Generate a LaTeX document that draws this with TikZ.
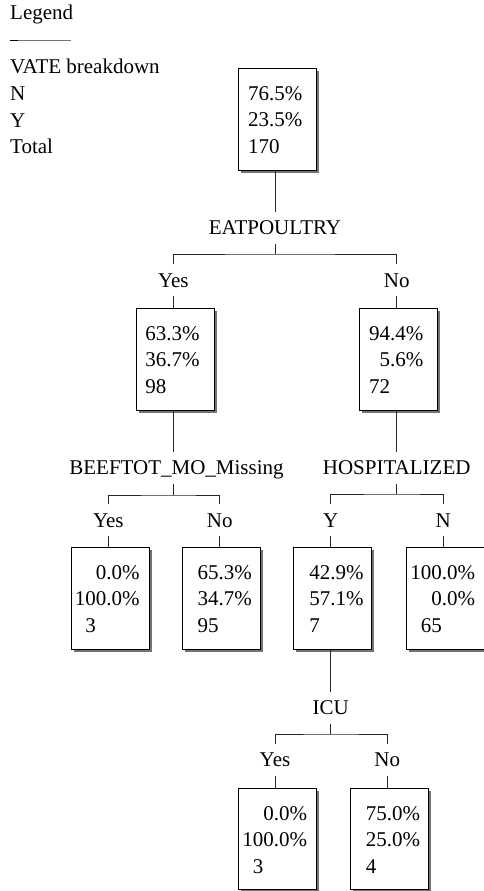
\documentclass[tikz,border=0pt]{standalone}
\usepackage{fontspec}
\setmainfont{Liberation Serif}
\usetikzlibrary{shadows,calc}
\newcommand\tbk[3]{\vtop{\baselineskip=26.6pt \hbox{#1}\hbox{#2}\hbox{#3}}}
\tikzset{
  lbl/.style={inner xsep=2pt, inner ysep=9pt, text height=13.5pt, text depth=0pt, anchor=base, font=\fontsize{21}{26.6}\selectfont},
  nbox/.style={draw=black, line width=0.9pt, fill=white, minimum width=78pt, minimum height=101.5pt, inner sep=0pt, anchor=north west,
    drop shadow={shadow xshift=2.6pt, shadow yshift=-2.6pt, fill=black!55, opacity=1}},
  btxt/.style={inner sep=0pt, anchor=base west, font=\fontsize{21}{26.6}\selectfont},
  conn/.style={draw=black!85, line width=0.9pt},
}
\begin{document}
\begin{tikzpicture}[x=1pt,y=-1pt]
\useasboundingbox (0,0) rectangle (484,891);
% legend
\node[btxt] (legend) at (10,20) {Legend};
\coordinate (lgA) at (10,41);
\coordinate (lgB) at (71,41);
\draw[line width=1pt, black!55] (lgA) -- (lgB);
\draw[line width=1pt, black] (lgA) -- ($(lgA)+(8,0)$);
\node[btxt] (legtxt) at (10,74) {\vtop{\baselineskip=26.6pt \hbox{VATE breakdown}\hbox{N}\hbox{Y}\hbox{Total}}};

% root
\node[nbox] (r) at (237.5,68) {};
\node[btxt] (rt) at (248,100) {\tbk{76.5\%}{23.5\%}{170}};
\node[lbl] (eat) at (275,234.3) {EATPOULTRY};
\coordinate (j0) at ($(eat.south)+(0,10.5)$);
\node[lbl] (y1) at (173.3,287) {Yes};
\node[lbl] (n1) at (396.7,287) {No};
\draw[conn] (r.south -| eat) -- (eat.north);
\draw[conn] (eat.south) -- (j0);
\draw[conn] (y1.north) |- (j0) -| (n1.north);

% level 1
\node[nbox] (b1y) at (135.8,308.3) {};
\node[btxt] (b1yt) at (145.2,340) {\tbk{63.3\%}{36.7\%}{98}};
\node[nbox] (b1n) at (359.2,308.3) {};
\node[btxt] (b1nt) at (368.8,340) {\tbk{94.4\%}{\hphantom{0}5.6\%}{72}};
\draw[conn] (y1.south) -- (b1y.north -| y1);
\draw[conn] (n1.south) -- (b1n.north -| n1);

% BEEFTOT
\node[lbl] (beef) at (176.5,474.3) {BEEFTOT\_MO\_Missing};
\coordinate (j1) at (173.3,495);
\draw[conn] (b1y.south -| y1) -- (y1 |- beef.north);
\draw[conn] (y1 |- beef.south) -- (j1);
\node[lbl] (y2a) at (108.3,527) {Yes};
\node[lbl] (n2a) at (219.8,527) {No};
\draw[conn] (y2a.north) |- (j1) -| (n2a.north);

% HOSPITALIZED
\node[lbl] (hosp) at (396.7,474.3) {HOSPITALIZED};
\coordinate (j2) at ($(hosp.south)+(0,10.5)$);
\draw[conn] (b1n.south -| hosp) -- (hosp.north);
\draw[conn] (hosp.south) -- (j2);
\node[lbl] (y2b) at (330.7,527) {Y};
\node[lbl] (n2b) at (443.3,527) {N};
\draw[conn] (y2b.north) |- (j2) -| (n2b.north);

% level 2 boxes
\node[nbox] (b2a) at (70.8,547.3) {};
\node[btxt] (b2at) at (74.6,579) {\tbk{\hphantom{10}0.0\%}{100.0\%}{\hphantom{0}3}};
\node[nbox] (b2b) at (182.3,547.3) {};
\node[btxt] (b2bt) at (186.8,579) {\tbk{\hphantom{0}65.3\%}{\hphantom{0}34.7\%}{\hphantom{0}95}};
\node[nbox] (b2c) at (293.2,547.3) {};
\node[btxt] (b2ct) at (298.6,579) {\tbk{\hphantom{0}42.9\%}{\hphantom{0}57.1\%}{\hphantom{0}7}};
\node[nbox] (b2d) at (405.8,547.3) {};
\node[btxt] (b2dt) at (410.1,579) {\tbk{100.0\%}{\hphantom{10}0.0\%}{\hphantom{0}65}};
\draw[conn] (y2a.south) -- (b2a.north -| y2a);
\draw[conn] (n2a.south) -- (b2b.north -| n2a);
\draw[conn] (y2b.south) -- (b2c.north -| y2b);
\draw[conn] (n2b.south) -- (b2d.north -| n2b);

% ICU
\node[lbl] (icu) at (330.7,714.3) {ICU};
\coordinate (j3) at ($(icu.south)+(0,10.5)$);
\draw[conn] (b2c.south -| icu) -- (icu.north);
\draw[conn] (icu.south) -- (j3);
\node[lbl] (y3) at (275,766.7) {Yes};
\node[lbl] (n3) at (387.3,766.7) {No};
\draw[conn] (y3.north) |- (j3) -| (n3.north);
\node[nbox] (b3a) at (237.5,787.7) {};
\node[btxt] (b3at) at (242.1,820) {\tbk{\hphantom{10}0.0\%}{100.0\%}{\hphantom{0}3}};
\node[nbox] (b3b) at (349.8,787.7) {};
\node[btxt] (b3bt) at (355.1,820) {\tbk{\hphantom{0}75.0\%}{\hphantom{0}25.0\%}{\hphantom{0}4}};
\draw[conn] (y3.south) -- (b3a.north -| y3);
\draw[conn] (n3.south) -- (b3b.north -| n3);
\end{tikzpicture}
\end{document}
